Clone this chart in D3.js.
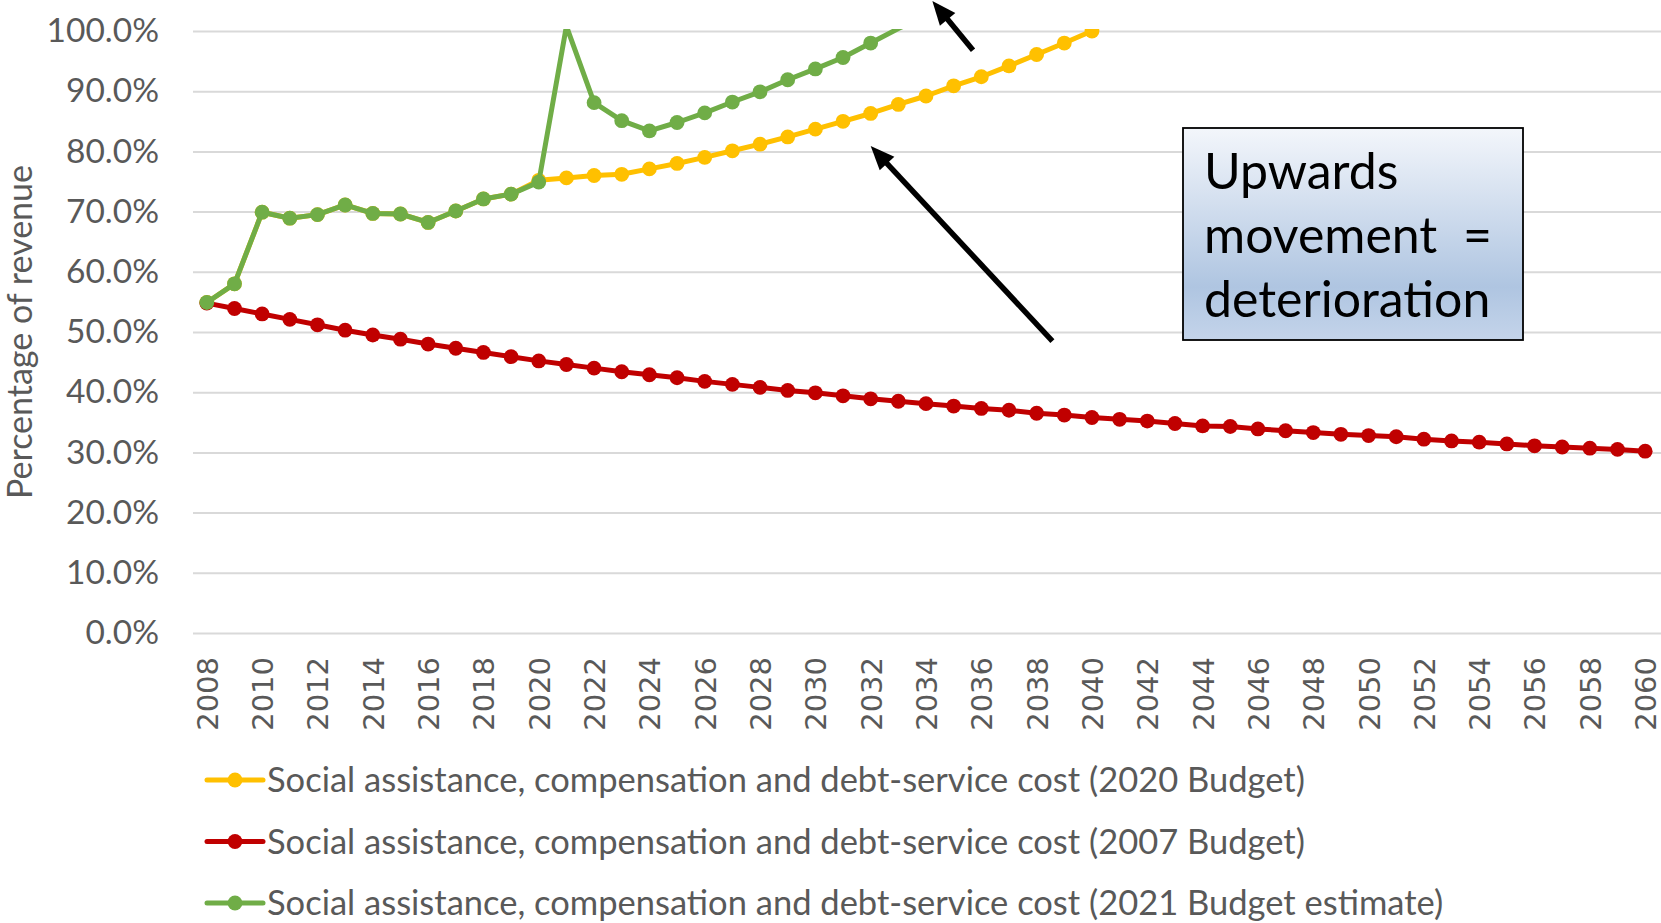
<!DOCTYPE html>
<html>
<head>
<meta charset="utf-8">
<script src="https://cdn.jsdelivr.net/npm/d3@7"></script>
<style>
  body { margin: 0; background: #fff; }
  svg { display: block; }
  text { font-family: Lato, "Open Sans", sans-serif; }
</style>
</head>
<body>
<svg id="chart" width="1661" height="923"></svg>
<script>
// categories and values (percent of revenue)
const years = d3.range(2008, 2061);
const tickYears = years.filter(y => y % 2 === 0);
const yTicks = [0, 10, 20, 30, 40, 50, 60, 70, 80, 90, 100];

// 2020 Budget, 2008-2040
const budget2020 = [54.9, 58.0, 69.9, 68.9, 69.5, 71.1, 69.7, 69.6, 68.2, 70.1, 72.1, 72.9, 75.2,
  75.6, 76.0, 76.2, 77.1, 78.0, 79.0, 80.1, 81.2, 82.4, 83.7, 85.0, 86.3, 87.8, 89.2, 90.9,
  92.4, 94.2, 96.1, 98.0, 100.0];
// 2007 Budget, 2008-2060
const budget2007 = [54.8, 53.9, 53.0, 52.1, 51.2, 50.3, 49.5, 48.8, 48.0, 47.3, 46.6, 45.9, 45.2,
  44.6, 44.0, 43.4, 42.9, 42.4, 41.8, 41.3, 40.8, 40.3, 39.9, 39.4, 38.9, 38.5, 38.1, 37.7,
  37.3, 37.0, 36.5, 36.2, 35.8, 35.5, 35.2, 34.8, 34.4, 34.3, 33.9, 33.6, 33.3, 33.0, 32.8,
  32.6, 32.2, 31.9, 31.7, 31.4, 31.1, 30.9, 30.7, 30.5, 30.2];
// 2021 Budget estimate, 2008-2034 (runs off the top of the axis)
const budget2021 = [54.9, 58.0, 69.9, 68.9, 69.5, 71.1, 69.7, 69.6, 68.2, 70.1, 72.1, 72.9, 74.9,
  100.8, 88.1, 85.1, 83.4, 84.8, 86.4, 88.2, 89.9, 91.9, 93.7, 95.6, 98.0, 100.4, 102.6];

const seriesNames = [
  "Social assistance, compensation and debt-service cost (2020 Budget)",
  "Social assistance, compensation and debt-service cost (2007 Budget)",
  "Social assistance, compensation and debt-service cost (2021 Budget estimate)"
];
const seriesColors = ["#FFC000", "#C00000", "#70AD47"];
const seriesValues = [budget2020, budget2007, budget2021];

const boxLines = ["Upwards", "movement  =", "deterioration"];

const svg = d3.select("#chart");
const plot = { left: 193, right: 1659, top: 31, bottom: 633 };

const x = d3.scalePoint().domain(years).range([plot.left, plot.right]).padding(0.5);
const y = d3.scaleLinear().domain([0, 100]).range([plot.bottom, plot.top]);
// continuous year scale, only for placing the annotation arrows
const xYear = d3.scaleLinear().domain([2008, 2060]).range([x(2008), x(2060)]);

const defs = svg.append("defs");
defs.append("clipPath").attr("id", "plotClip")
  .append("rect")
  .attr("x", plot.left).attr("y", plot.top - 2)
  .attr("width", plot.right - plot.left + 2).attr("height", plot.bottom - plot.top + 10);

const grad = defs.append("linearGradient").attr("id", "boxGrad")
  .attr("x1", 0).attr("y1", 0).attr("x2", 0).attr("y2", 1);
grad.append("stop").attr("offset", "0%").attr("stop-color", "#f3f6fb");
grad.append("stop").attr("offset", "75%").attr("stop-color", "#afc5e1");
grad.append("stop").attr("offset", "100%").attr("stop-color", "#c4d4ea");

// gridlines
svg.append("g")
  .attr("transform", `translate(${plot.left},0)`)
  .call(d3.axisLeft(y).tickValues(yTicks).tickSize(-(1661 - plot.left)).tickFormat(""))
  .call(g => g.select(".domain").remove())
  .call(g => g.selectAll("line").attr("stroke", "#d9d9d9").attr("stroke-width", 2));

// y axis labels
svg.append("g")
  .attr("transform", `translate(${plot.left},0)`)
  .call(d3.axisLeft(y).tickValues(yTicks).tickSize(0).tickPadding(34).tickFormat(d => d.toFixed(1) + "%"))
  .call(g => g.select(".domain").remove())
  .call(g => g.selectAll("text")
    .attr("fill", "#595959")
    .style("font-family", "Lato, sans-serif")
    .style("font-size", "33.5px"));

// x axis labels
svg.append("g")
  .attr("transform", `translate(0,${plot.bottom})`)
  .call(d3.axisBottom(x).tickValues(tickYears).tickSize(0))
  .call(g => g.select(".domain").remove())
  .call(g => g.selectAll("text")
    .attr("fill", "#595959")
    .style("font-family", "'DejaVu Sans', sans-serif")
    .style("font-size", "29px")
    .attr("text-anchor", "end")
    .attr("transform", "rotate(-90)")
    .attr("x", -24)
    .attr("y", 0)
    .attr("dy", "0.36em"));

// y axis title
svg.append("text")
  .attr("transform", `translate(32,${(plot.top + plot.bottom) / 2}) rotate(-90)`)
  .attr("text-anchor", "middle")
  .attr("fill", "#595959")
  .style("font-size", "34px")
  .text("Percentage of revenue");

// series
const line = d3.line().x((d, i) => x(years[i])).y(d => y(d));
const seriesG = svg.append("g").attr("clip-path", "url(#plotClip)");
seriesValues.forEach((vals, s) => {
  seriesG.append("path")
    .datum(vals)
    .attr("fill", "none")
    .attr("stroke", seriesColors[s])
    .attr("stroke-width", 5)
    .attr("stroke-linejoin", "round")
    .attr("d", line);
  seriesG.append("g")
    .selectAll("circle")
    .data(vals.map((v, i) => ({ year: years[i], v })).filter(d => d.v <= 100))
    .join("circle")
    .attr("cx", d => x(d.year))
    .attr("cy", d => y(d.v))
    .attr("r", 7.4)
    .attr("fill", seriesColors[s]);
});

// arrows
function arrow(x1, y1, x2, y2) {
  const dx = x2 - x1, dy = y2 - y1, len = Math.hypot(dx, dy);
  const ux = dx / len, uy = dy / len;
  const headLen = 24, headHalf = 10;
  const bx = x2 - ux * headLen, by = y2 - uy * headLen;
  svg.append("line")
    .attr("x1", x1).attr("y1", y1)
    .attr("x2", bx + ux * 4).attr("y2", by + uy * 4)
    .attr("stroke", "#000").attr("stroke-width", 5.5);
  svg.append("path")
    .attr("d", `M${x2},${y2}L${bx - uy * headHalf},${by + ux * headHalf}L${bx + uy * headHalf},${by - ux * headHalf}Z`)
    .attr("fill", "#000");
}
arrow(xYear(2038.57), y(48.5), xYear(2032), y(80.9));
arrow(xYear(2035.7), y(96.8), xYear(2034.23), y(105));

// text box
const box = svg.append("g").attr("transform", "translate(1183,128)");
box.append("rect")
  .attr("width", 340).attr("height", 212)
  .attr("fill", "url(#boxGrad)")
  .attr("stroke", "#000").attr("stroke-width", 1.8);
box.selectAll("text.box")
  .data(boxLines)
  .join("text")
  .attr("class", "box")
  .attr("x", 21)
  .attr("y", (d, i) => 43 + i * 64)
  .attr("dy", "0.35em")
  .attr("fill", "#000")
  .style("font-size", "50px")
  .style("white-space", "pre")
  .text(d => d);

// legend
const legend = svg.append("g");
seriesNames.forEach((name, i) => {
  const g = legend.append("g").attr("transform", `translate(0,${780 + i * 61.5})`);
  g.append("line")
    .attr("x1", 207).attr("x2", 263)
    .attr("stroke", seriesColors[i]).attr("stroke-width", 5).attr("stroke-linecap", "round");
  g.append("circle").attr("cx", 235).attr("r", 7.4).attr("fill", seriesColors[i]);
  g.append("text")
    .attr("x", 267)
    .attr("dy", "0.35em")
    .attr("fill", "#595959")
    .style("font-size", "34.5px")
    .text(name);
});
</script>
</body>
</html>
